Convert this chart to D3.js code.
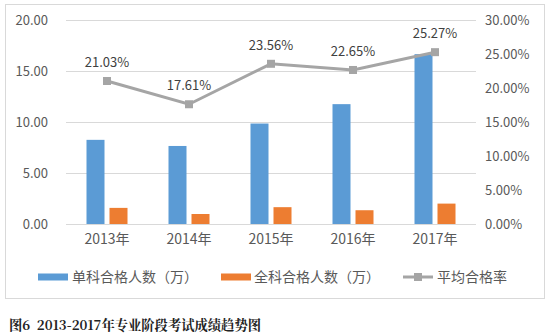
<!DOCTYPE html>
<html>
<head>
<meta charset="utf-8">
<script src="https://cdn.jsdelivr.net/npm/d3@7"></script>
<style>
  html, body { margin: 0; padding: 0; background: #fff; }
  svg { display: block; }
</style>
</head>
<body>
<script>
// Exam results 2013–2017: passers (10k) and average pass rate
const years = ["2013年", "2014年", "2015年", "2016年", "2017年"];
const singlePass = [8.25, 7.65, 9.85, 11.75, 16.65];
const fullPass = [1.58, 0.98, 1.65, 1.35, 2.0];
const passRate = [21.03, 17.61, 23.56, 22.65, 25.27];
const leftTicks = [0, 5, 10, 15, 20];
const rightTicks = [0, 5, 10, 15, 20, 25, 30];
const seriesNames = ["单科合格人数（万）", "全科合格人数（万）", "平均合格率"];
const caption = "图6  2013-2017年专业阶段考试成绩趋势图";

const W = 550, H = 333;
const colors = { blue: "#5B9BD5", orange: "#ED7D31", gray: "#A5A5A5" };
const font = "'Noto Sans CJK SC', 'Open Sans', sans-serif";

const svg = d3.select("body").append("svg").attr("width", W).attr("height", H);

// chart frame
svg.append("rect").attr("x", 5.5).attr("y", 4.5).attr("width", 539).attr("height", 294)
  .attr("fill", "#fff").attr("stroke", "#D9D9D9").attr("stroke-width", 1);

const plot = { left: 66, right: 476, top: 20, bottom: 224 };

const x = d3.scaleBand().domain(years).range([plot.left, plot.right]);
const yL = d3.scaleLinear().domain([0, 20]).range([plot.bottom, plot.top]);
const yR = d3.scaleLinear().domain([0, 30]).range([plot.bottom, plot.top]);

// gridlines
svg.append("g").selectAll("line").data(leftTicks).join("line")
  .attr("x1", plot.left).attr("x2", plot.right)
  .attr("y1", d => Math.round(yL(d)) + 0.5).attr("y2", d => Math.round(yL(d)) + 0.5)
  .attr("stroke", "#D9D9D9").attr("stroke-width", 1);

// left axis
const leftAxis = svg.append("g").attr("transform", `translate(${plot.left - 18},0)`)
  .call(d3.axisLeft(yL).tickValues(leftTicks).tickFormat(d3.format(".2f")).tickSize(0).tickPadding(0));
leftAxis.select(".domain").remove();
leftAxis.selectAll("text").attr("font-family", font).attr("font-size", 13).attr("fill", "#595959");

// right axis
const rightAxis = svg.append("g").attr("transform", `translate(${plot.right + 9},0)`)
  .call(d3.axisRight(yR).tickValues(rightTicks).tickFormat(d => d3.format(".2f")(d) + "%").tickSize(0).tickPadding(0));
rightAxis.select(".domain").remove();
rightAxis.selectAll("text").attr("font-family", font).attr("font-size", 13).attr("fill", "#595959");

// category axis
const catAxis = svg.append("g").attr("transform", `translate(0,${plot.bottom})`)
  .call(d3.axisBottom(x).tickSize(0).tickPadding(10));
catAxis.select(".domain").remove();
catAxis.selectAll("text").attr("font-family", font).attr("font-size", 14).attr("fill", "#595959");

// bars
const barW = 18, gap = 5;
svg.append("g").selectAll("rect").data(singlePass).join("rect")
  .attr("x", (d, i) => x(years[i]) + x.bandwidth() / 2 - gap / 2 - barW)
  .attr("y", d => yL(d)).attr("width", barW).attr("height", d => yL(0) - yL(d))
  .attr("fill", colors.blue);
svg.append("g").selectAll("rect").data(fullPass).join("rect")
  .attr("x", (d, i) => x(years[i]) + x.bandwidth() / 2 + gap / 2)
  .attr("y", d => yL(d)).attr("width", barW).attr("height", d => yL(0) - yL(d))
  .attr("fill", colors.orange);

// pass-rate line
const cx = i => x(years[i]) + x.bandwidth() / 2;
const line = d3.line().x((d, i) => cx(i)).y(d => yR(d));
svg.append("path").datum(passRate).attr("d", line)
  .attr("fill", "none").attr("stroke", colors.gray).attr("stroke-width", 3);
svg.append("g").selectAll("rect").data(passRate).join("rect")
  .attr("x", (d, i) => cx(i) - 4).attr("y", d => yR(d) - 4)
  .attr("width", 8).attr("height", 8).attr("fill", colors.gray);
svg.append("g").selectAll("text").data(passRate).join("text")
  .attr("x", (d, i) => cx(i)).attr("y", d => yR(d) - 14)
  .attr("text-anchor", "middle").attr("font-family", font).attr("font-size", 13)
  .attr("fill", "#404040").text(d => d3.format(".2f")(d) + "%");

// legend
const legendY = 277;
const lg = svg.append("g");
[[38, 72, "bar", colors.blue], [221, 254, "bar", colors.orange], [403, 437, "line", colors.gray]]
  .forEach(([sx, tx, kind, c], i) => {
    if (kind === "bar") {
      lg.append("rect").attr("x", sx).attr("y", legendY - 3.5).attr("width", 30).attr("height", 7).attr("fill", c);
    } else {
      lg.append("line").attr("x1", sx).attr("x2", sx + 30).attr("y1", legendY).attr("y2", legendY)
        .attr("stroke", c).attr("stroke-width", 3);
      lg.append("rect").attr("x", sx + 11).attr("y", legendY - 4).attr("width", 8).attr("height", 8).attr("fill", c);
    }
    lg.append("text").attr("x", tx).attr("y", legendY).attr("dy", "0.35em")
      .attr("font-family", font).attr("font-size", 14).attr("fill", "#595959").text(seriesNames[i]);
  });

// caption
svg.append("text").attr("x", 9).attr("y", 330)
  .attr("font-family", "'Noto Serif CJK SC', 'Noto Sans CJK SC', serif").attr("font-weight", "bold")
  .attr("font-size", 13.3).attr("fill", "#222").attr("xml:space", "preserve").text(caption);
</script>
</body>
</html>
